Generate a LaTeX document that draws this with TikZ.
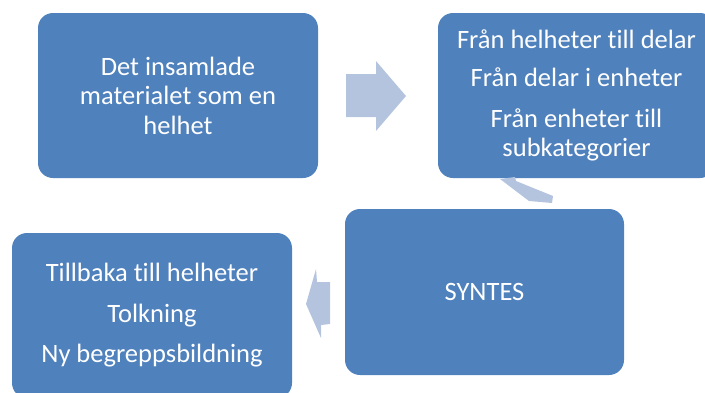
\documentclass[tikz,border=0pt]{standalone}
\usepackage{fontspec}
\setmainfont{Carlito}[Ligatures=NoCommon]
\definecolor{boxblue}{RGB}{79,129,189}
\definecolor{arrowblue}{RGB}{180,196,223}

\begin{document}
\begin{tikzpicture}[x=1pt, y=-1pt,
  stage/.style={rectangle, rounded corners=15pt, fill=boxblue, text=white,
    align=center, inner sep=0pt, minimum width=280pt, minimum height=165pt,
    font=\fontsize{26.5}{29.5}\selectfont},
  blockarrow/.style={fill=arrowblue, draw=none}]
\useasboundingbox (0,0) rectangle (705,392);
\clip (0,0) rectangle (705,392);

\node[stage] (helhet) at (178,95.5) {Det insamlade\\ materialet som en\\ helhet};
\node[stage, minimum width=277pt] (delar) at (576.5,95.5)
  {Från helheter till delar\\[8.5pt] Från delar i enheter\\[11.5pt] Från enheter till\\ subkategorier};
\node[stage, minimum width=279pt, minimum height=166pt] (syntes) at (484.5,292) {SYNTES};
\node[stage] (tolkning) at (152,315.5)
  {Tillbaka till helheter\\[11pt] Tolkning\\[11pt] Ny begreppsbildning};

% arrows between the stages
\fill[blockarrow] (346,74) -- (376,74) -- (376,61) -- (406,96) -- (376,131)
  -- (376,117) -- (346,117) -- cycle;
\fill[blockarrow] (500,179) -- (515,177) -- (516,181) -- (553,196) -- (552,203)
  -- (529,201) -- cycle;
\fill[blockarrow] (306,304) -- (316,269) -- (317,282) -- (330,282) -- (330,324)
  -- (321,325) -- (321,338) -- cycle;

\end{tikzpicture}
\end{document}
